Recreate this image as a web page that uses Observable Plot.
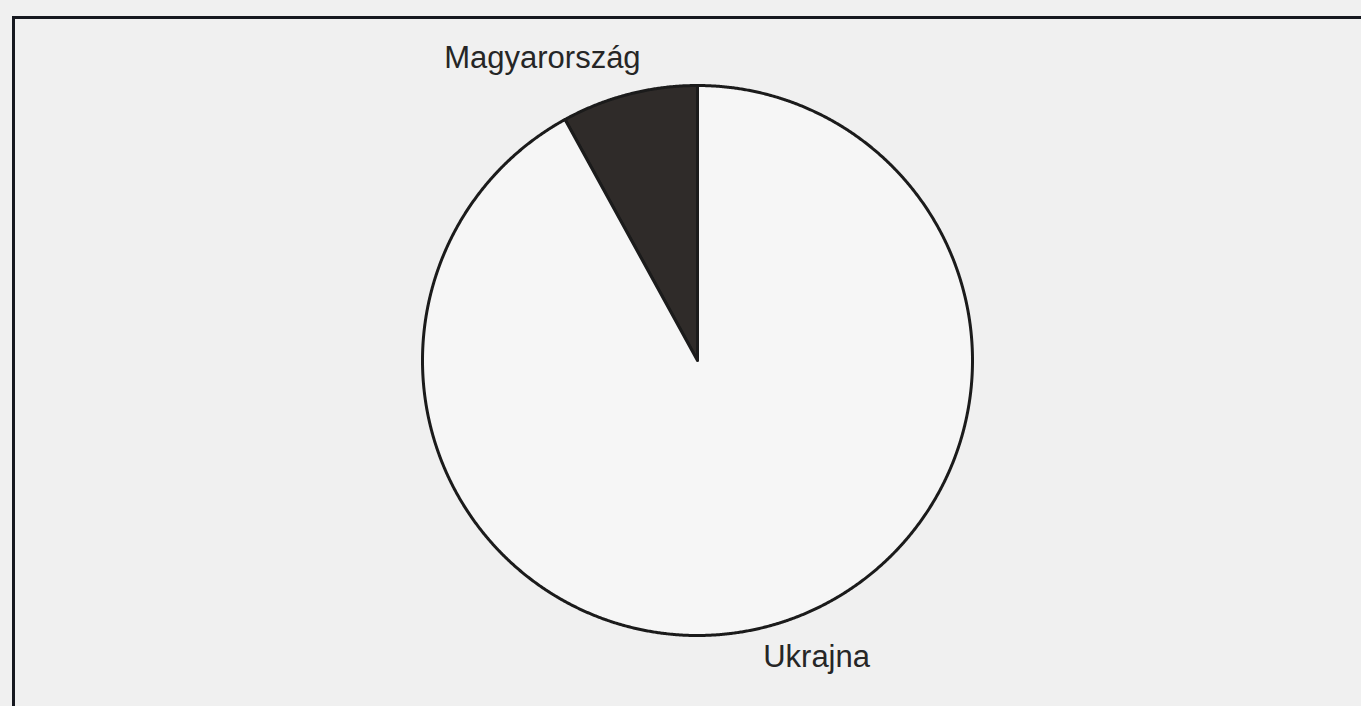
<!DOCTYPE html>
<html>
<head>
<meta charset="utf-8">
<script src="https://cdn.jsdelivr.net/npm/d3@7"></script>
<script src="https://cdn.jsdelivr.net/npm/@observablehq/plot@0.6"></script>
<style>
  html, body { margin: 0; padding: 0; width: 1361px; height: 706px; overflow: hidden; background: #f0f0f0; }
  #frame { position: absolute; left: 12px; top: 16px; width: 1400px; height: 800px;
           border-top: 3px solid #16181f; border-left: 3px solid #16181f; box-sizing: border-box; }
  #chart { position: absolute; left: 0; top: 0; }
</style>
</head>
<body>
<div id="frame"></div>
<div id="chart"></div>
<script>
// Data
const categories = ["Magyarország", "Ukrajna"];
const values = [8, 92];

// Pie layout (first slice ends at 12 o'clock, going counter-clockwise)
const total = d3.sum(values);
const start = -2 * Math.PI * values[0] / total;
const arcs = d3.pie().sort(null).startAngle(start).endAngle(start + 2 * Math.PI)(values);

function wedge(a) {
  const pts = [{x: 0, y: 0}];
  const n = Math.max(2, Math.ceil((a.endAngle - a.startAngle) / (Math.PI / 720)));
  for (let i = 0; i <= n; i++) {
    const t = a.startAngle + (a.endAngle - a.startAngle) * i / n;
    pts.push({x: Math.sin(t), y: Math.cos(t)});
  }
  pts.push({x: 0, y: 0});
  return pts;
}

const fills = {"Magyarország": "#2f2b29", "Ukrajna": "#f6f6f6"};

const sliceMarks = arcs.map((a, i) => Plot.line(wedge(a), {
  x: "x", y: "y",
  fill: fills[categories[i]],
  stroke: "#1b1b1b",
  strokeWidth: 3,
  strokeLinejoin: "round",
  curve: "linear"
}));

const plot = Plot.plot({
  width: 1361,
  height: 706,
  marginLeft: 422,
  marginRight: 389,
  marginTop: 85,
  marginBottom: 71,
  x: {domain: [-1, 1], axis: null},
  y: {domain: [-1, 1], axis: null},
  style: {background: "transparent", fontFamily: "'Liberation Sans', Arial, sans-serif"},
  marks: [
    ...sliceMarks,
    Plot.text([categories[0]], {x: -0.564, y: 1.065, text: d => d, lineAnchor: "bottom",
      textAnchor: "middle", fontSize: 31, fill: "#262626"}),
    Plot.text([categories[1]], {x: 0.433, y: -1.116, text: d => d, lineAnchor: "bottom",
      textAnchor: "middle", fontSize: 31, fill: "#262626"})
  ]
});
document.getElementById("chart").appendChild(plot);
</script>
</body>
</html>
